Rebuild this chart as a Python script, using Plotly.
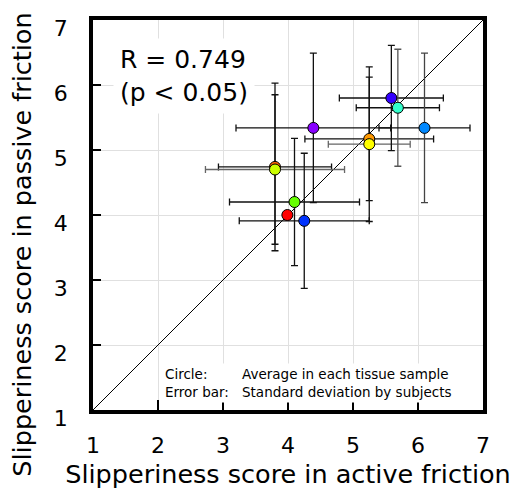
import plotly.graph_objects as go

# Data
names = ["orange-red", "yellow-green", "green", "red", "blue", "violet",
         "orange", "yellow", "blue-violet", "cyan", "light blue"]
colors = ["#ff6600", "#ccff00", "#66ff00", "#ff0000", "#0033ff", "#8800ff",
          "#ff9900", "#ffff00", "#3300ff", "#33ffcc", "#0088ff"]
active = [3.80, 3.80, 4.10, 3.99, 4.25, 4.39, 5.25, 5.25, 5.59, 5.69, 6.10]
passive = [4.74, 4.70, 4.20, 4.00, 3.91, 5.34, 5.17, 5.09, 5.80, 5.65, 5.34]
active_sd = [0.87, 1.07, 1.00, None, 1.00, 1.19, 0.99, 0.63, 0.80, 0.64, 0.70]
passive_sd = [1.29, 1.15, 0.98, None, 1.04, 1.15, 0.95, 1.19, 0.81, 0.90, 1.15]
xbar_col = ["#111", "#666", "#111", "#111", "#111", "#111", "#111", "#666", "#111", "#111", "#111"]
ybar_col = ["#111", "#111", "#111", "#111", "#111", "#111", "#111", "#111", "#111", "#555", "#444"]

diag = [1, 7]
ticks = [1, 2, 3, 4, 5, 6, 7]

x_title = "Slipperiness score in active friction"
y_title = "Slipperiness score in passive friction"

FONT = "DejaVu Sans"

fig = go.Figure()

# identity line
fig.add_trace(go.Scatter(x=diag, y=diag, mode="lines",
                         line=dict(color="black", width=1), hoverinfo="skip",
                         showlegend=False))

# error bars (one trace per sample so markers can sit on top of all bars)
for i in range(len(names)):
    if active_sd[i] is None:
        continue
    fig.add_trace(go.Scatter(
        x=[active[i]], y=[passive[i]], mode="markers",
        marker=dict(color="rgba(0,0,0,0)", size=2),
        error_x=dict(type="data", array=[active_sd[i]], color=xbar_col[i],
                     thickness=1.3, width=3.5),
        error_y=dict(type="data", array=[passive_sd[i]], color=ybar_col[i],
                     thickness=1.3, width=3.5),
        showlegend=False, hoverinfo="skip"))

# sample averages
fig.add_trace(go.Scatter(
    x=active, y=passive, mode="markers", text=names,
    marker=dict(color=colors, size=11, line=dict(color="black", width=1)),
    showlegend=False))

axis_common = dict(
    range=[1, 7], tickvals=ticks, ticktext=[str(t) for t in ticks],
    showgrid=True, gridcolor="#e0e0e0", gridwidth=1.3,
    showline=True, linecolor="black", linewidth=3.5, mirror=True,
    ticks="inside", tickwidth=2, tickcolor="black",
    zeroline=False, tickfont=dict(family=FONT, size=22, color="black"),
)

fig.update_xaxes(**axis_common, ticklen=10, ticklabelstandoff=13,
                 title=dict(text=x_title,
                            font=dict(family=FONT, size=25.5, color="black"),
                            standoff=9))
fig.update_yaxes(**axis_common, ticklen=8, ticklabelstandoff=17,
                 ticklabelshift=8)

# y title placed as text beside the axis (it sits slightly below the plot centre)
fig.add_annotation(
    xref="paper", yref="paper", x=-0.181, y=0.425, xanchor="center", yanchor="middle",
    text=y_title, textangle=-90, showarrow=False,
    font=dict(family=FONT, size=25.5, color="black"))

fig.add_annotation(
    xref="paper", yref="paper", x=0.05, y=0.955, xanchor="left", yanchor="top",
    text="R = 0.749<br>(p &lt; 0.05)", align="left", showarrow=False,
    font=dict(family=FONT, size=25, color="black"),
    bgcolor="white", borderpad=6)

fig.add_annotation(
    xref="paper", yref="paper", x=0.178, y=0.068, xanchor="left", yanchor="middle",
    text="Circle:<br>Error bar:", align="left", showarrow=False,
    font=dict(family=FONT, size=13.5, color="black"),
    bgcolor="white", borderpad=2)
fig.add_annotation(
    xref="paper", yref="paper", x=0.374, y=0.068, xanchor="left", yanchor="middle",
    text="Average in each tissue sample<br>Standard deviation by subjects",
    align="left", showarrow=False,
    font=dict(family=FONT, size=13.5, color="black"),
    bgcolor="white", borderpad=2)

fig.update_layout(
    width=518, height=489,
    margin=dict(l=93, r=35, t=20, b=79, autoexpand=False),
    plot_bgcolor="white", paper_bgcolor="white",
    font=dict(family=FONT, color="black"),
)

fig.write_html("out.html")
